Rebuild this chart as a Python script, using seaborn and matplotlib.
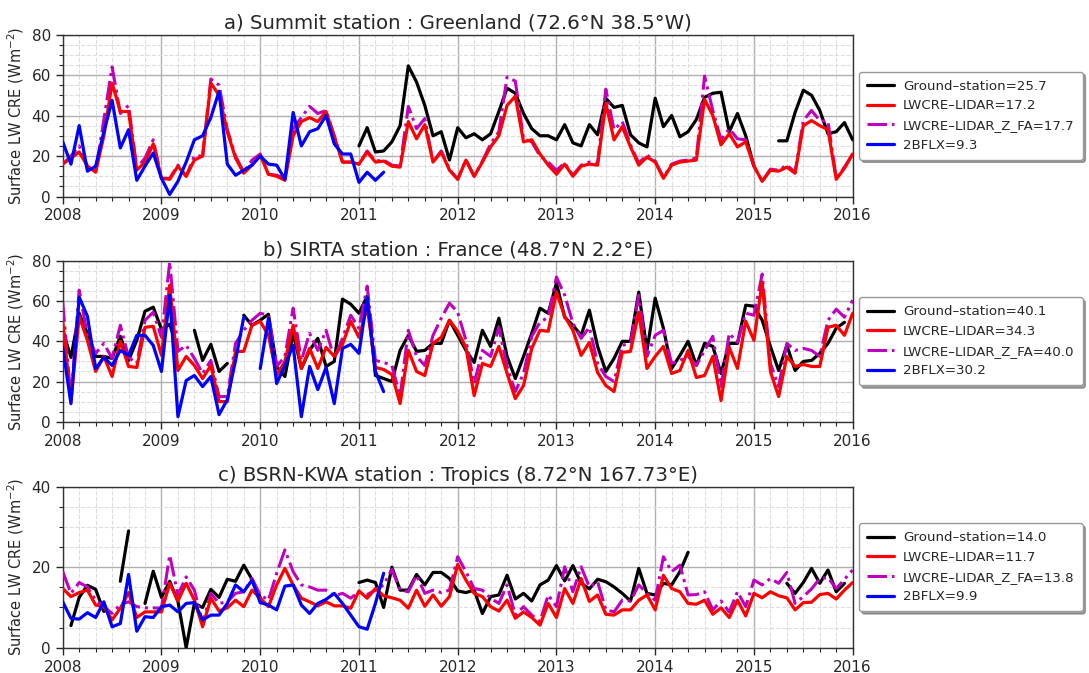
import numpy as np
import pandas as pd
import matplotlib
matplotlib.use("Agg")
import matplotlib.pyplot as plt
from matplotlib.lines import Line2D
from matplotlib.ticker import MultipleLocator
import seaborn as sns

nan = np.nan

# ---------------- data (monthly, Jan 2008 .. Jan 2016) ----------------
a_ground = [nan]*36 + [25, 34, 22, 22.5, 27, 35, 64.5, 56.5, 45, 30, 32, 18,
    34, 29, 31, 28, 31, 42, 53.5, 51, 41, 33.5, 30, 30,
    28, 35.5, 26.5, 25, 35.5, 30.5, 48.5, 44, 45, 30.5, 26.5, 24.5,
    48.5, 34.5, 40, 29.5, 32, 38, 49, 51, 51.5, 32, 41, 30,
    15, nan, nan, 27.5, 27.5, 41.5, 52.5, 50, 42.5, 31, 32, 36.5, 28]
a_lidar = [16, 19, 22, 15, 12, 30, 56, 42, 42, 13, 17, 26,
    9, 8.5, 15, 10, 18, 20, 56, 50, 32, 19, 11.5, 15.5,
    20.5, 11, 10, 8, 30, 37, 39, 37, 42, 29.5, 17, 17,
    16, 22, 17, 17.5, 15, 14.5, 37, 28.5, 35.5, 17, 22, 13,
    8.5, 18, 10, 17, 24.5, 30, 45, 49.5, 27, 28, 21, 15.5,
    11, 16, 10, 15, 16, 15.5, 46, 28, 34.5, 24.5, 15.5, 19.5,
    17, 9, 15.5, 17, 17.5, 18, 48, 40, 25.5, 31, 24.5, 27,
    15, 7.5, 13, 12.5, 14.5, 11.5, 35, 37.5, 35, 33, 8.5, 14, 21]
a_zfa = [16, 20, 25, 15, 12, 38, 64, 41, 45, 14, 19, 28,
    9, 9, 15.5, 10, 20, 20, 58, 55, 33, 20, 12, 18,
    21, 11, 10.5, 9, 33.5, 39, 44.5, 41, 42.5, 30, 17, 17,
    16, 22.5, 17.5, 18, 15.5, 15, 44.5, 33.5, 38.5, 17, 22.5, 13.5,
    8.5, 18, 10, 17.5, 26, 32, 59, 57, 28.5, 27, 20, 17,
    13, 16.5, 10.5, 15.5, 17, 16.5, 53, 33, 37, 25.5, 16.5, 20.5,
    17.5, 9.5, 16, 17.5, 18, 19, 59.5, 42.5, 28, 33.5, 28.5, 28,
    15, 7.5, 13.5, 13, 15.5, 12, 37.5, 42.5, 37.5, 37, 9, 14.5, 21]
a_2bflx = [27, 16, 35, 12.5, 15, 32, 47.5, 24, 33, 8, 15, 21.5,
    9, 1, 7.5, 17, 28, 30, 39, 52, 16, 10.5, 13, 15.5,
    20, 16, 15.5, 8.5, 41.5, 25, 32, 33.5, 40, 26, 21, 21,
    7, 12, 8, 12] + [nan]*57

b_ground = [45.5, 32, 54, 44, 32.5, 32.5, 31.5, 42.5, 30.5, 40.5, 55, 57,
    46, 48.5, 36, nan, 45.5, 30.5, 38.5, 25, 29, nan, 53, 48,
    50.5, 53.5, 27.5, 22.5, 44, 26.5, 35.5, 41.5, 27.5, 30, 61, 58.5,
    54, 62.5, 23, 21.5, 20, 35.5, 43, 35, 35.5, 39, 39, 50.5,
    43, 35.5, 29.5, 45.5, 37.5, 51.5, 32.5, 21.5, 32.5, 44, 56.5, 54,
    69, 52, 48, 43, 55.5, 37.5, 25, 31.5, 40, 40, 64.5, 35.5,
    61.5, 46.5, 26.5, 33, 40, 28, 39, 37.5, 24, 39, 39, 58,
    57.5, 50.5, 37.5, 25.5, 38, 25.5, 30, 30.5, 34, 39, 46.5, 49.5, nan]
b_lidar = [50, 10, 52.5, 40.5, 25, 32.5, 22.5, 40, 27.5, 27, 47, 47.5,
    33, 68, 25.5, 32.5, 28, 21.5, 28, 10, 10, 35, 35, 48,
    50, 43, 23, 30, 48, 26.5, 36.5, 26.5, 37, 32.5, 38.5, 50,
    42, 57, 27, 26, 23.5, 9, 35.5, 25, 23, 39, 42, 50.5,
    45, 37, 13, 29, 27.5, 37.5, 24, 11.5, 18, 36.5, 45.5, 45,
    64.5, 52.5, 45.5, 33, 39.5, 24.5, 18, 15, 34.5, 35, 54.5, 26.5,
    32.5, 37.5, 24, 25.5, 35.5, 22, 23, 32.5, 10.5, 37, 26.5, 50,
    40.5, 69.5, 25, 12.5, 32.5, 27.5, 28.5, 27.5, 27.5, 47, 48, 43, 54]
b_zfa = [59.5, 11, 65.5, 43, 34, 39, 31.5, 48, 32, 29, 50.5, 54.5,
    42, 79.5, 35, 38, 31.5, 24, 30.5, 12.5, 12.5, 39, 45.5, 50.5,
    54, 53, 27.5, 32.5, 56.5, 30.5, 44, 35.5, 45.5, 31.5, 41.5, 53,
    46.5, 67.5, 30.5, 29.5, 28, 12.5, 45.5, 32.5, 28, 43, 51.5, 59,
    54.5, 40.5, 19, 35.5, 32.5, 47, 27.5, 15, 24, 42.5, 49.5, 52,
    72, 63, 49, 41.5, 47, 29, 22.5, 20, 38, 39, 63, 32.5,
    43, 45.5, 29, 30.5, 32.5, 28, 35.5, 42.5, 17.5, 44, 39.5, 54,
    53, 73.5, 29, 17.5, 39, 35.5, 36.5, 35.5, 32.5, 50.5, 56, 52, 60.5]
b_2bflx = [37, 9, 62, 52.5, 26.5, 32, 28, 35.5, 33, 43, 43, 38,
    25, 63, 2.5, 20.5, 23, 17.5, 22.5, 3.5, 11, 30.5, 52, nan,
    26.5, 51.5, 19, 28, 38, 2.5, 27.5, 16, 27, 9, 36.5, 38.5,
    34, 62, 25, 15] + [nan]*57

c_ground = [nan, 5.5, 12.5, 15.5, 14.5, 9, nan, 16.5, 29, nan, 11, 19,
    12.5, 16.5, 11.5, 0, 11, 10, 14.5, 12.5, 17, 16.5, 20.5, 17,
    12.5] + [nan]*11 + [16.2, 16.8, 16.2, 10, 20, 14.3, 14.3, 18.2, 15.6, 18.7, 18.7, 17.2,
    14.1, 13.7, 14.3, 8.5, 12.7, 13.1, 18, 12.1, 13.5, 11.6, 15.6, 16.8,
    20.4, 16.6, 20.4, 16, 14.6, 17, 16.4, 15.1, 13.5, 11.6, 19.7, 13.5,
    13.1, 16, 15.6, 18.9, 23.7] + [nan]*11 + [16, 13.5, 16.2, 19.7, 16, 19.3, 13.9, 16, nan]
c_lidar = [14.7, 12.7, 13.7, 14.3, 10.6, 10.2, 6.9, 9.8, 13.7, 7.5, 8.9, 8.9,
    8.9, 16, 11.6, 16, 11.8, 5.2, 12.3, 9.1, 9.9, 11.8, 10.2, 14.3,
    12.3, 10.2, 15.6, 19.7, 15.6, 12.3, 11.4, 10.4, 11.4, 10.4, 10.4, 9.8,
    14.1, 12.3, 14.7, 12.9, 12.4, 11.8, 9.8, 14.3, 10.3, 13.1, 10.3, 12.7,
    20.7, 16.8, 13.5, 12.7, 10.2, 9.1, 11.8, 7.3, 8.9, 7.5, 5.6, 11,
    7.5, 14.7, 11, 17.2, 11.5, 13.1, 8.3, 8.1, 9.4, 9.4, 11.8, 13.1,
    9.4, 18, 14.7, 13.9, 11, 10.8, 11.8, 8.3, 9.9, 7.5, 11.8, 7.9,
    13.5, 12.4, 13.9, 12.9, 12.4, 9.4, 11.2, 11.3, 13.2, 13.5, 12.1, 14.3, 16.2]
c_zfa = [18.9, 13.5, 16.2, 15.1, 11.8, 10.2, 8.5, 10.8, 11.4, 10.2, 9.9, 9.9,
    9.8, 23, 13.1, 17.6, 14.3, 6, 13.5, 11, 11.4, 13.5, 13.9, 17.2,
    13.1, 11.8, 18.5, 24.3, 18.9, 15.6, 15.1, 14.3, 14.3, 12.9, 13.5, 12.3,
    13.9, 13.2, 14.3, 15.6, 19.5, 14.3, 13.9, 18, 13.5, 14.3, 13.7, 14.3,
    22.6, 18.9, 14.7, 14.3, 12.3, 11, 15.6, 8.1, 10.2, 8.1, 6.5, 13.1,
    10.2, 20.1, 13.9, 20.1, 15.1, 16.4, 9.4, 8.9, 11.8, 11.6, 15.6, 13.5,
    11.8, 22.6, 18.9, 20.5, 13.1, 13.2, 13.9, 9.4, 11.6, 8.9, 13.9, 10.2,
    16.8, 15.6, 17.2, 16, 18.7, 11, 12.7, 14.6, 17.2, 17.4, 14.7, 17, 19.3]
c_2bflx = [11.4, 7.3, 7.1, 8.7, 7.5, 11.4, 5.2, 6, 18.2, 4.1, 7.7, 7.5,
    10.2, 10.6, 8.9, 11, 11.2, 6.9, 8.1, 8.1, 11, 15.6, 13.9, 16.8,
    11.2, 10.6, 9.4, 15.3, 15.6, 10.6, 8.5, 11, 12, 13.5, 11, 8.1,
    5.2, 4.6, 11, 18.5] + [nan]*57

series_names = ["Ground\u2013station", "LWCRE\u2013LIDAR", "LWCRE\u2013LIDAR_Z_FA", "2BFLX"]
means_a = ["25.7", "17.2", "17.7", "9.3"]
means_b = ["40.1", "34.3", "40.0", "30.2"]
means_c = ["14.0", "11.7", "13.8", "9.9"]
titles = ["a) Summit station : Greenland (72.6\u00b0N 38.5\u00b0W)",
          "b) SIRTA station : France (48.7\u00b0N 2.2\u00b0E)",
          "c) BSRN-KWA station : Tropics (8.72\u00b0N 167.73\u00b0E)"]
year_ticks = list(range(2008, 2017))

# ---------------- styling ----------------
sns.set_style("white")
plt.rcParams["font.family"] = ["DejaVu Sans"]

colors = ["#000000", "#ff0000", "#bf00bf", "#0000ff"]
styles = ["-", "-", "-.", "-"]
widths = [2.3, 2.3, 2.2, 2.3]
zorders = [3, 5, 4, 6]

t = 2008 + np.arange(97) / 12.0

fig = plt.figure(figsize=(10.89, 6.73), dpi=100)
left, width = 0.0576, 0.7254
positions = [(left, 0.708, width, 0.2407),
             (left, 0.3734, width, 0.2388),
             (left, 0.0376, width, 0.2392)]
panels = [
    ([a_ground, a_lidar, a_zfa, a_2bflx], means_a, 80),
    ([b_ground, b_lidar, b_zfa, b_2bflx], means_b, 80),
    ([c_ground, c_lidar, c_zfa, c_2bflx], means_c, 40),
]

for i, ((vals, means, ymax), pos) in enumerate(zip(panels, positions)):
    ax = fig.add_axes(pos)
    handles = []
    for k, (v, name) in enumerate(zip(vals, series_names)):
        arr = np.asarray(v, dtype=float)
        seg = np.cumsum(np.isnan(arr))
        df = pd.DataFrame({"t": t, "v": arr, "seg": seg}).dropna()
        sns.lineplot(data=df, x="t", y="v", units="seg", estimator=None,
                     color=colors[k], linewidth=widths[k], linestyle=styles[k],
                     zorder=zorders[k], legend=False, ax=ax)
        handles.append(Line2D([], [], color=colors[k], lw=widths[k], ls=styles[k],
                              label=f"{name}={means[k]}"))
    ax.set_xlim(2008, 2016)
    ax.set_ylim(0, ymax)
    ax.set_xticks(year_ticks)
    ax.set_xticklabels([str(y) for y in year_ticks])
    ax.xaxis.set_minor_locator(MultipleLocator(1 / 6))
    ax.yaxis.set_major_locator(MultipleLocator(20))
    ax.yaxis.set_minor_locator(MultipleLocator(5))
    ax.grid(which="major", color="#b0b0b0", lw=1.0, ls="-", zorder=0)
    ax.grid(which="minor", color="#dddddd", lw=0.8, ls="--", zorder=0)
    ax.set_axisbelow(True)
    ax.tick_params(which="major", direction="out", length=5, width=1, labelsize=11,
                   bottom=True, left=True)
    ax.tick_params(which="minor", direction="out", length=3, width=0.8,
                   bottom=True, left=True)
    for s in ax.spines.values():
        s.set_color("#333333")
        s.set_linewidth(1.0)
    ax.set_xlabel("")
    ax.set_ylabel("Surface LW CRE (Wm$^{-2}$)", fontsize=10.5)
    ax.set_title(titles[i], fontsize=14.2, pad=4)
    ax.legend(handles=handles, loc="center left", bbox_to_anchor=(1.008, 0.5),
              borderaxespad=0, fontsize=9.6, frameon=True, shadow=True, fancybox=True,
              framealpha=1, edgecolor="#999999", borderpad=0.6,
              handlelength=2.0, handletextpad=0.7, labelspacing=0.5)

fig.savefig("out.png", dpi=100)
